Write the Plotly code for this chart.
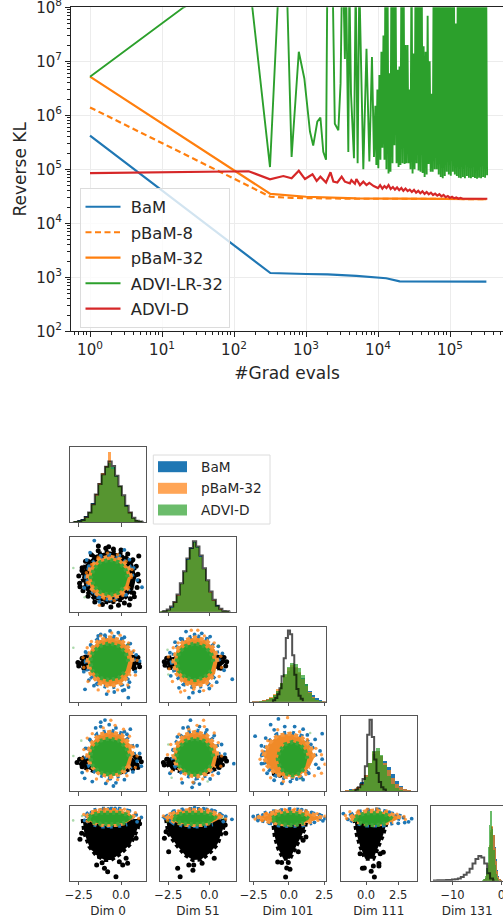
import plotly.graph_objects as go

BLUE, ORANGE, GREEN, RED = "#1f77b4", "#ff7f0e", "#2ca02c", "#d62728"

# ---------- top chart data ----------
BAM_X = [1, 320, 1000, 2000, 5000, 10000, 13000, 20000, 320000]
BAM_Y = [4.2e5, 1200, 1150, 1130, 1060, 1000, 960, 840, 830]
P8_X = [1, 320, 640, 1300, 5000, 20000, 320000]
P8_Y = [1.4e6, 3.1e4, 2.95e4, 2.9e4, 2.85e4, 2.85e4, 2.8e4]
P32_X = [1, 320, 1000, 5000, 320000]
P32_Y = [5.2e6, 3.5e4, 3.1e4, 2.9e4, 2.8e4]
LR_HEAD_X = [1, 20, 160, 316, 420, 540, 631, 794, 948, 1135, 1259, 1435, 1585, 1738, 1897, 1977, 2344, 2512, 2812,
             3020, 3160, 3300, 3467, 3600, 3870, 4000, 4217, 4634, 4900, 5212, 5500, 5900, 6252, 6918, 7586, 8241, 8790]
LR_HEAD_Y = [5.2e6, 1e8, 4e8, 1.1e5, 3e8, 3e8, 1.7e5, 1.5e7, 4.8e6, 5e5, 2.75e5, 7.6e5, 9.1e5, 2.1e5, 1.5e5, 3e8, 3e8,
             7e5, 5.3e5, 3.9e6, 3e8, 3e8, 1.1e7, 3e8, 2.1e5, 3e8, 2.5e6, 1.6e5, 3e8, 1.3e5, 3e8, 2.4e6, 1e5, 1.7e7,
             1.4e5, 1.2e7, 1.7e5]
LR_TAIL_X = [9190, 9490, 9800, 10100, 10450, 10800, 11150, 11500, 11900, 12300, 12700, 13100, 13500, 14000, 14400,
             14900, 15400, 15900, 16400, 16900, 17500, 18100, 18700, 19300, 19900, 20500, 21200, 21900, 22600, 23400,
             24100, 24900, 25700, 26600, 27400, 28300, 29200, 30200, 31200, 32200, 33300, 34300, 35500, 36600, 37800,
             39000, 40300, 41700, 43000, 44400, 45900, 47400, 48900, 50500, 52200, 53900, 55700, 57500, 59400, 61300,
             63300, 65400, 67500, 69700, 72000, 74400, 76800, 79300, 81900, 84600, 87400, 90200, 93200, 96200, 99400,
             102600, 106000, 109500, 113000, 116700, 120500, 124500, 128600, 132800, 137100, 141600, 146300, 151100,
             156000, 161100, 166400, 171900, 177500, 183300, 189300, 195500, 201900, 208500, 215400, 222400, 229700,
             237200, 245000, 253000, 261300, 269900, 278700, 287900, 297300, 307000, 317100, 327000]
LR_TAIL_Y = [1.5e6, 1.2e5, 3e6, 1.05e5, 5.6e6, 1.5e5, 1.5e7, 2.5e5, 3e7, 1.5e5, 1e9, 1e5, 1e9, 8.4e4, 6e6, 9e4, 1e9,
             1.3e5, 1e9, 2.8e5, 5e8, 1.3e5, 7e6, 1.1e5, 8e6, 1.2e5, 1e9, 1.3e5, 1e9, 1.25e5, 2e7, 1.3e5, 2e7, 1.3e5,
             3e6, 1e5, 1e9, 8.4e4, 1.4e7, 1e5, 1e9, 1.3e5, 1e9, 9.5e4, 1e9, 9e4, 1e9, 8.5e4, 1.9e7, 7.2e4, 1.5e7, 8e4,
             7e7, 1.25e5, 1e7, 9e4, 2.5e6, 9e4, 1e9, 1e5, 1e9, 1e5, 1e9, 8e4, 1e9, 7.2e4, 1e9, 6.8e4, 1e9, 7.5e4, 1e9,
             9e4, 1e9, 8e4, 1e9, 7.6e4, 1e9, 9e4, 1e9, 8e4, 5e7, 7.5e4, 1e9, 7e4, 1e9, 6.8e4, 1.1e8, 7.2e4, 1e9, 6.8e4,
             1e9, 7.5e4, 1e9, 7e4, 1e9, 6.8e4, 1e9, 7.2e4, 1e9, 6.9e4, 1e9, 6.7e4, 1e9, 7e4, 1e9, 6.8e4, 1e9, 7.2e4,
             1e9, 7e4, 1e9, 7.8e4]
D_X = [1, 160, 316, 484, 631, 794, 968, 1230, 1406, 1585, 1897, 2188, 2399, 2723, 3126, 3467, 4070, 4270, 4780, 5010,
       5620, 6250, 6920, 7580, 8710, 10000, 10700, 11500, 12300, 13100, 14000, 15000, 16100, 17200, 18400, 19700, 21100,
       22500, 24100, 25800, 27600, 29500, 31600, 33800, 36200, 38700, 41400, 44300, 47400, 50700, 54300, 58100, 62100,
       66500, 71100, 76100, 81400, 87100, 93200, 99700, 106700, 114200, 122200, 130700, 140000, 150000, 200000, 330000]
D_Y = [8.5e4, 9.2e4, 6.5e4, 7.5e4, 6.8e4, 9.4e4, 6.6e4, 8.1e4, 6.1e4, 7.3e4, 5.7e4, 8.8e4, 5.9e4, 5.7e4, 7.3e4, 5.9e4,
       5.5e4, 6.3e4, 5.4e4, 6.6e4, 5.1e4, 5.9e4, 5.1e4, 5.6e4, 4.9e4, 4.5e4, 5.1e4, 4.4e4, 4.9e4, 4.5e4, 5.1e4, 4.3e4,
       4.7e4, 4.2e4, 4.6e4, 4.1e4, 4.5e4, 4.0e4, 4.4e4, 3.95e4, 4.2e4, 3.8e4, 4.15e4, 3.7e4, 4.0e4, 3.6e4, 3.9e4, 3.5e4,
       3.8e4, 3.45e4, 3.7e4, 3.35e4, 3.55e4, 3.25e4, 3.45e4, 3.15e4, 3.35e4, 3.05e4, 3.2e4, 2.95e4, 3.1e4, 2.9e4, 3.0e4,
       2.85e4, 2.95e4, 2.85e4, 2.85e4, 2.85e4]
DECADES_X = [0, 1, 2, 3, 4, 5]
DECADES_Y = [2, 3, 4, 5, 6, 7, 8]

# ---------- histogram data (heights as % of panel height) ----------
DIM_NAMES = ["Dim 0", "Dim 51", "Dim 101", "Dim 111", "Dim 131"]
BINS_0 = [-2.85, -2.65, -2.45, -2.25, -2.05, -1.85, -1.65, -1.45, -1.25, -1.05, -.85, -.65, -.45, -.25, -.05, .15, .35, .55, .75, .95, 1.15, 1.35]
H0_BLUE = [0, .4, 1.6, 4, 8, 14, 25, 37, 50, 63, 75, 79, 73, 61, 48, 35, 23, 13, 6, 3, 1, 0]
H0_ORANGE = [0, .4, 1.2, 3, 7, 14, 24, 37, 52, 65, 75, 94, 71, 60, 48, 35, 22, 13, 6, 2, 1, 0]
H0_GREEN = [0, .2, 1, 2, 6, 13, 23, 35, 49, 63, 73, 79, 74, 62, 48, 35, 22, 12, 6, 2, 1, 0]
H0_BLACK = [0, .4, 1.6, 3, 7, 13, 24, 37, 51, 64, 74, 81, 75, 62, 48, 36, 22, 13, 6, 2, 1, 0]
BINS_1 = [-2.9, -2.7, -2.5, -2.3, -2.1, -1.9, -1.7, -1.5, -1.3, -1.1, -.9, -.7, -.5, -.3, -.1, .1, .3, .5, .7, .9, 1.1, 1.3]
H1_BLUE = [.3, 1, 3, 7, 13, 23, 38, 54, 71, 85, 93, 87, 75, 58, 42, 27, 16, 9, 4, 1, .5, 0]
H1_ORANGE = [.3, 1, 3, 6, 13, 23, 38, 54, 70, 84, 92, 86, 74, 58, 42, 27, 16, 8, 4, 1, .4, 0]
H1_GREEN = [.2, .8, 2, 6, 12, 22, 37, 53, 70, 84, 93, 87, 74, 57, 41, 26, 15, 8, 3, 1, .3, 0]
H1_BLACK = [.3, 1, 3, 7, 13, 23, 38, 54, 71, 85, 94, 87, 75, 58, 42, 27, 16, 8, 4, 1, .5, 0]
BINS_2 = [-2.5, -2.25, -2, -1.75, -1.5, -1.25, -1, -.75, -.5, -.25, 0, .25, .5, .75, 1, 1.25, 1.5, 1.75, 2, 2.25, 2.5]
H2_BLUE = [.3, .5, 1, 2, 3.5, 6, 10, 15, 24, 33, 41, 47, 46, 39, 32, 24, 15, 9, 5, 2, .5]
H2_ORANGE = [.3, .5, 1.2, 2.5, 4, 7, 11, 17, 26, 36, 45, 50, 47, 40, 31, 21, 13, 7, 3, 1, .3]
H2_GREEN = [0, 0, .2, .8, 2, 5, 9, 15, 25, 38, 47, 52, 51, 45, 36, 24, 12, 5, 2, .5, 0]
BLACK_BINS_2 = [-1.2, -1.05, -.9, -.75, -.6, -.45, -.3, -.15, 0, .15, .3, .45, .6, .75, .9, 1.05]
H2_BLACK = [1, 2, 5, 10, 18, 34, 58, 85, 95, 90, 62, 36, 17, 8, 4, 2]
BINS_3 = [-1.5, -1.2, -.9, -.6, -.3, 0, .3, .6, .9, 1.2, 1.5, 1.8, 2.1, 2.4, 2.7, 3, 3.3]
H3_BLUE = [.5, 1.5, 3, 6, 12, 22, 37, 50, 53, 47, 40, 32, 23, 14, 7, 3, .5]
H3_ORANGE = [.3, 1, 2, 5, 10, 21, 38, 52, 54, 47, 38, 28, 18, 10, 5, 2, .3]
H3_GREEN = [0, .2, 1, 3, 8, 19, 37, 53, 57, 48, 35, 20, 10, 4, 1, 0, 0]
BLACK_BINS_3 = [-.9, -.72, -.54, -.36, -.18, 0, .18, .36, .54, .72, .9, 1.08, 1.26, 1.44, 1.62]
H3_BLACK = [1, 2, 5, 9, 16, 33, 75, 95, 72, 42, 24, 12, 5, 2, 1]
BINS_4 = [-4, -3.75, -3.5, -3.25, -3, -2.75, -2.5, -2.25, -2, -1.75, -1.5, -1.25, -1, -.75, -.5, -.25, 0, .25]
H4_BLUE = [0, 0, .5, 1.5, 4, 9, 22, 45, 66, 72, 62, 46, 29, 15, 7, 3, 1, 0]
H4_ORANGE = [0, 0, .5, 1.5, 4, 10, 24, 48, 68, 73, 62, 44, 27, 14, 6, 2, .5, 0]
H4_GREEN = [0, .5, 1.5, 3, 7, 18, 45, 75, 94, 70, 42, 22, 10, 4, 1, 0, 0, 0]
BLACK_BINS_4 = [-14, -13.4, -12.8, -12.2, -11.6, -11, -10.4, -9.8, -9.2, -8.6, -8, -7.4, -6.8, -6.2, -5.6, -5, -4.4, -3.8, -3.2, -2.6, -2, -1.4]
H4_BLACK = [.3, .3, .5, .5, .5, .8, 1, 1.5, 2, 3, 5, 8, 11, 16, 23, 29, 33, 31, 23, 10, 3, .5]

HISTS = [
    (BINS_0, H0_BLUE, H0_ORANGE, H0_GREEN, BINS_0, H0_BLACK),
    (BINS_1, H1_BLUE, H1_ORANGE, H1_GREEN, BINS_1, H1_BLACK),
    (BINS_2, H2_BLUE, H2_ORANGE, H2_GREEN, BLACK_BINS_2, H2_BLACK),
    (BINS_3, H3_BLUE, H3_ORANGE, H3_GREEN, BLACK_BINS_3, H3_BLACK),
    (BINS_4, H4_BLUE, H4_ORANGE, H4_GREEN, BLACK_BINS_4, H4_BLACK),
]

# ---------- pair-plot clouds: outlines of the dense core + stray samples ----------
C10_BLACK_CORE = [(.9, -.88), (.72, -.1), (.13, .5), (-.68, .72), (-1.5, .5), (-2.1, -.1), (-2.3, -.88), (-2.1, -1.66), (-1.5, -2.25), (-.68, -2.45), (.13, -2.25), (.72, -1.66)]
C10_ORANGE_CORE = [(.6, -.88), (.43, -.25), (-.03, .22), (-.68, .4), (-1.33, .22), (-1.8, -.25), (-1.98, -.88), (-1.8, -1.52), (-1.33, -2.0), (-.68, -2.17), (-.03, -2.0), (.43, -1.52)]
C10_GREEN_CORE = [(.4, -.88), (.25, -.35), (-.15, .05), (-.68, .2), (-1.22, .05), (-1.6, -.35), (-1.78, -.88), (-1.6, -1.42), (-1.2, -1.8), (-.68, -1.96), (-.15, -1.82), (.25, -1.4)]
C10_BLACK = [(1.0, -.7), (1.05, -1.1), (.95, -1.5), (.75, -1.85), (.55, -2.2), (.2, -2.45), (-.15, -2.6), (-.6, -2.7), (-1.1, -2.55), (-1.55, -2.4), (-1.95, -2.05), (-2.25, -1.7), (-2.45, -1.25), (-2.5, -.8), (-2.3, -.3), (-2.1, .1), (-1.75, .5), (-1.35, .75), (-.9, .9), (-.45, .85), (0, .8), (.4, .55), (.7, .2), (.9, -.2), (-1.34, 1.04), (-.73, 1.0), (1.05, .43), (.79, -2.07), (.49, -2.58), (-2.43, -1.46), (-2.31, -.47)]
C10_BLUE = [(-1.58, 1.37), (-1.83, .63), (-2.03, .18), (1.24, -1.49), (.97, -1.05), (.2, .8), (-1.28, -2.38), (-2.17, -1.53), (.75, -.3), (.5, .2), (-1.9, -.2), (-2.0, -1.1), (-1.5, -1.9), (-.6, -2.25), (.3, -1.95), (-.1, .45), (-1.2, .45)]
C10_ORANGE = [(-1.28, -2.6), (.6, -.9), (.45, -1.5), (.1, -2.0), (-.4, -2.3), (-1.0, -2.2), (-1.6, -1.75), (-2.0, -1.2), (-2.05, -.6), (-1.75, -.1), (-1.35, .35), (-.8, .6), (-.2, .5), (.3, .1), (.65, -.4)]
C10_GREEN = [(-2.82, -.31), (-2.15, -2.1)]

C20_BLACK_CORE = [(1.0, .05), (.7, .45), (.1, .55), (-1.5, .55), (-2.2, .4), (-2.45, .05), (-2.2, -.35), (-1.6, -.5), (.1, -.5), (.8, -.4)]
C20_ORANGE_CORE = [(.7, .1), (.55, .95), (.03, 1.62), (-.65, 1.85), (-1.33, 1.62), (-1.8, .95), (-2.0, .1), (-1.8, -.75), (-1.33, -1.4), (-.65, -1.65), (.03, -1.42), (.55, -.75)]
C20_GREEN_CORE = [(.43, .1), (.28, .75), (-.13, 1.22), (-.7, 1.42), (-1.27, 1.22), (-1.68, .75), (-1.83, .1), (-1.68, -.55), (-1.27, -1.03), (-.7, -1.2), (-.13, -1.03), (.28, -.55)]
C20_BLACK = [(-2.55, .05), (-2.5, -.2), (-2.3, .35), (-2.1, .45), (1.0, .4), (1.05, 0), (1.1, -.25), (.85, .45), (-2.2, -.35), (.8, -.35)]
C20_BLUE = [(-.16, 2.17), (-.65, 2.3), (-1.2, 2.05), (.2, 1.85), (.55, 1.4), (.9, .6), (1.1, .15), (.85, -.6), (.5, -1.35), (.2, -1.9), (-.4, -2.05), (-.85, -2.2), (-2.13, -1.86), (.43, -2.45), (-1.8, 1.3), (-2.1, .8), (-1.35, 1.95), (-2.2, -.6), (-1.9, -1.2), (.1, -1.95), (-.95, 2.0), (.45, -1.7), (-1.6, -1.6)]
C20_ORANGE = [(-1.75, 1.55), (-1.2, 1.95), (-.55, 2.15), (-.05, 2.0), (.45, 1.45), (.75, .9), (.95, .2), (.85, -.85), (.4, -1.55), (-.2, -1.9), (-.75, -2.0), (-1.35, -1.9), (-1.95, -1.3), (-2.2, -.3), (-2.25, .4), (-2.0, 1.1)]
C20_GREEN = [(-2.82, 1.1), (.4, 1.35)]

C21_BLACK_CORE = [(.95, .05), (.6, .45), (0, .55), (-1.7, .55), (-2.4, .4), (-2.7, .05), (-2.4, -.3), (-1.8, -.5), (0, -.5), (.6, -.35)]
C21_ORANGE_CORE = [(.5, .1), (.35, .95), (-.17, 1.62), (-.85, 1.85), (-1.53, 1.62), (-2.0, .95), (-2.2, .1), (-2.0, -.75), (-1.53, -1.4), (-.85, -1.65), (-.17, -1.42), (.35, -.75)]
C21_GREEN_CORE = [(.25, .1), (.1, .75), (-.33, 1.22), (-.88, 1.42), (-1.45, 1.22), (-1.85, .75), (-2.0, .1), (-1.85, -.55), (-1.45, -1.03), (-.88, -1.2), (-.33, -1.03), (.1, -.55)]
C21_BLACK = [(-2.75, .1), (-2.7, -.15), (-2.6, .35), (-2.45, -.3), (.9, .4), (1.06, .1), (1.0, -.2), (.75, .45), (.7, -.35)]
C21_BLUE = [(1.4, -1.14), (-1.24, -2.45), (-1.42, 2.25), (-.46, 2.13), (-2.09, 1.5), (-.9, 2.05), (.05, 1.9), (.55, 1.2), (.8, .7), (.9, -.5), (.45, -1.35), (0, -1.8), (-.6, -2.0), (-1.85, -1.75), (-2.35, -.9), (-2.4, .75), (-1.75, 1.75), (-1.0, -2.1)]
C21_ORANGE = [(-1.9, 1.45), (-1.1, 2.35), (-.7, 2.35), (-.3, 1.95), (.3, 1.45), (.7, .5), (.75, -.3), (.6, -.95), (.15, -1.6), (-.35, -1.95), (-.95, -1.85), (-1.75, -2.05), (-2.25, -1.3), (-2.45, -.4), (-2.5, .45), (-2.2, 1.1), (-1.5, -1.95)]
C21_GREEN = [(-2.55, .95), (.55, 1.25), (-2.5, -.8)]

C30_BLACK_CORE = [(1.0, .35), (.6, .75), (0, .85), (-1.5, .85), (-2.2, .7), (-2.45, .3), (-2.2, -.1), (-1.6, -.4), (0, -.5), (.7, -.15)]
C30_ORANGE_CORE = [(.7, .85), (.55, 1.7), (.03, 2.45), (-.65, 2.7), (-1.33, 2.45), (-1.8, 1.7), (-2.0, .85), (-1.8, .05), (-1.33, -.55), (-.65, -.85), (.03, -.6), (.55, .05)]
C30_GREEN_CORE = [(.47, .75), (.3, 1.45), (-.1, 1.98), (-.68, 2.17), (-1.26, 1.98), (-1.68, 1.45), (-1.83, .75), (-1.68, .05), (-1.26, -.48), (-.68, -.67), (-.1, -.48), (.3, .05)]
C30_BLACK = [(-2.6, .3), (-2.45, .55), (-2.25, .2), (-2.0, .05), (-2.3, -.05), (1.1, .65), (1.2, .35), (.95, .1), (.85, .75), (.7, -.2), (1.0, -.1)]
C30_BLUE = [(-.95, 3.61), (-.45, -1.55), (-1.5, 3.0), (-1.2, 3.1), (-.7, 3.25), (-.3, 3.0), (.2, 2.7), (.55, 2.9), (.35, 2.5), (.95, 1.6), (1.1, 1.0), (.95, .4), (1.2, .0), (.7, -.45), (.2, -1.05), (-.3, -1.3), (-.9, -1.35), (-1.7, -1.2), (-2.3, -.5), (-2.1, 1.4), (-1.85, 2.1), (-2.15, -.95), (-1.2, 3.45)]
C30_ORANGE = [(-.6, 3.6), (-2.0, 2.2), (-1.7, 2.55), (-1.05, 3.0), (-.35, 3.2), (.15, 2.9), (.5, 2.35), (.75, 1.5), (.95, .8), (.85, -.1), (.35, -.75), (-.2, -1.05), (-.8, -1.15), (-1.45, -1.0), (-2.0, -.35), (-2.3, .6), (-2.2, 1.3)]
C30_GREEN = [(-2.82, .8), (-2.35, 2.0)]

C31_BLACK_CORE = [(.85, .35), (.45, .75), (-.15, .85), (-1.7, .85), (-2.4, .7), (-2.65, .3), (-2.4, -.1), (-1.8, -.4), (-.15, -.5), (.5, -.15)]
C31_ORANGE_CORE = [(.5, .85), (.35, 1.7), (-.17, 2.45), (-.85, 2.7), (-1.53, 2.45), (-2.0, 1.7), (-2.2, .85), (-2.0, .05), (-1.53, -.55), (-.85, -.85), (-.17, -.6), (.35, .05)]
C31_GREEN_CORE = [(.25, .75), (.1, 1.45), (-.32, 1.98), (-.88, 2.17), (-1.45, 1.98), (-1.87, 1.45), (-2.02, .75), (-1.87, .05), (-1.45, -.48), (-.88, -.67), (-.32, -.48), (.1, .05)]
C31_BLACK = [(-2.8, .3), (-2.6, .55), (-2.4, .15), (-2.25, -.05), (.95, .65), (1.05, .4), (.8, .1), (.7, .7), (.6, -.1), (-2.75, .1)]
C31_BLUE = [(-1.15, 3.6), (-.6, 3.1), (-1.6, 3.0), (-.15, 2.85), (.3, 2.4), (.75, 1.7), (.95, .95), (1.5, .2), (.55, -.55), (.05, -1.0), (-.6, -1.4), (-1.05, -1.65), (-1.65, -1.3), (-2.4, -.55), (-2.2, 1.25), (-1.95, 2.3), (-1.3, 3.05), (-.95, -1.3)]
C31_ORANGE = [(-.35, 3.6), (-1.85, 2.5), (-1.25, 2.9), (-.75, 3.2), (-.3, 3.1), (.3, 2.6), (.55, 1.85), (.75, .8), (.7, 0), (.2, -.7), (-.4, -1.0), (-1.0, -1.25), (-1.7, -1.0), (-2.3, -.4), (-2.55, .9), (-2.35, 1.7)]
C31_GREEN = [(-2.5, 1.7), (-.1, -1.2), (-2.3, -.9)]

C32_ORANGE_CORE = [(1.8, .7), (1.5, 1.6), (.9, 2.25), (.1, 2.55), (-.8, 2.4), (-1.45, 1.75), (-1.8, .85), (-1.55, .05), (-.95, -.6), (-.2, -.85), (.75, -.75), (1.45, -.1)]
C32_GREEN_CORE = [(1.3, .58), (1.15, 1.2), (.8, 1.7), (.26, 1.9), (-.3, 1.7), (-.65, 1.2), (-.8, .58), (-.65, -.05), (-.3, -.55), (.26, -.72), (.8, -.55), (1.15, -.05)]
C32_BLACK = [(-1.04, -.59), (-.64, -.71)]
C32_BLUE = [(-2.4, 2.35), (-1.75, 1.1), (-1.95, .2), (-1.55, -.55), (-1.05, -1.1), (-.5, -1.35), (.1, -1.2), (.55, -1.0), (1.0, -1.05), (1.4, -.55), (1.9, .15), (2.35, .55), (2.2, 1.2), (1.85, 2.1), (2.35, 2.55), (1.3, 2.45), (1.0, 2.9), (.4, 3.1), (-.3, 3.1), (-.75, 3.7), (-1.3, 3.25), (-1.05, 2.85), (-1.65, 2.2), (-1.95, 1.6), (1.55, 1.7), (2.1, -.15)]
C32_ORANGE = [(-.1, 3.8), (2.55, .15), (2.3, .9), (2.3, -.55), (1.8, -.75), (1.2, -.65), (-.4, -1.2), (-1.3, -.9), (-1.8, -.3), (-2.05, .55), (-1.9, 1.2), (-1.5, 2.0), (-.8, 2.85), (.75, 2.7), (1.3, 2.1), (1.9, 1.4)]
C32_GREEN = [(1.5, 2.6), (.9, -1.0)]

C40_BLACK_CORE = [(-2.27, -1.6), (-2.17, -4.57), (-1.87, -7.32), (-1.48, -9.05), (-.98, -10.08), (-.59, -10.08), (0, -8.7), (.59, -6.63), (.99, -3.55), (1.08, -1.6)]
C40_ORANGE_CORE = [(.82, -1.3), (.45, -.25), (-.1, .18), (-.67, .3), (-1.25, .18), (-1.8, -.3), (-2.1, -1.3), (-1.75, -2.35), (-1.1, -2.85), (-.3, -2.85), (.35, -2.4)]
C40_GREEN_CORE = [(.63, -1.47), (.35, -.7), (-.15, -.32), (-.67, -.22), (-1.2, -.32), (-1.7, -.7), (-2.0, -1.47), (-1.7, -2.25), (-1.2, -2.6), (-.67, -2.72), (-.15, -2.6), (.35, -2.25)]
C40_BLACK = [(-2.43, -5.81), (-2.33, -4.57), (-1.64, -7.67), (-1.44, -11.11), (-1.12, -10.63), (-.98, -11.79), (-.79, -12.49), (-.3, -13.52), (.1, -11.11), (.39, -10.76), (.89, -5.6), (.3, -9.73), (-1.28, -9.4), (-.1, -10.43), (1.1, -2.6)]
C40_BLUE = [(-2.05, -1.0), (-1.75, -.25), (-1.2, .25), (-.75, .45), (-.1, .4), (.5, .05), (.9, -.75), (1.2, -1.3), (.95, -2.2), (-.75, -3.1), (-2.15, -1.9), (-.35, .55)]
C40_ORANGE = [(-2.2, -.7), (-1.5, .15), (-1.0, .45), (-.4, .3), (.2, .4), (.85, -.3), (1.05, -1.5), (-2.0, -2.1), (-1.55, -.15)]
C40_GREEN = [(-2.83, -1.9), (-2.3, -1.0)]

C41_BLACK_CORE = [(-2.64, -1.6), (-2.5, -4.6), (-2.0, -7.0), (-1.5, -9), (-1.0, -10.1), (-.5, -10), (0, -8.7), (.5, -6.8), (.85, -3.5), (.95, -1.6)]
C41_ORANGE_CORE = [(.8, -1.3), (.3, -.3), (-.3, .12), (-.9, .25), (-1.5, .12), (-2.15, -.35), (-2.55, -1.3), (-2.1, -2.3), (-1.4, -2.85), (-.5, -2.85), (.2, -2.4)]
C41_GREEN_CORE = [(.45, -1.47), (.15, -.7), (-.35, -.32), (-.9, -.22), (-1.45, -.32), (-1.95, -.7), (-2.25, -1.47), (-1.95, -2.25), (-1.45, -2.6), (-.9, -2.72), (-.35, -2.6), (.15, -2.25)]
C41_BLACK = [(-2.74, -5.6), (-2.64, -4.25), (-2.48, -8.36), (-1.93, -11.79), (-1.78, -13.52), (-1.25, -11.11), (-1.0, -12.2), (-.95, -11.1), (-.44, -10.76), (.3, -9.73), (1.0, -4.57), (.97, -2.85)]
C41_BLUE = [(1.38, -1.68), (-2.7, -1.4), (-2.25, -.3), (-1.6, .2), (-1.1, .3), (-.9, .75), (-.35, .5), (.15, .2), (.65, -.5), (1.0, -1.1), (.85, -2.15), (-.9, -3.1), (-2.35, -2.1)]
C41_ORANGE = [(-2.8, -1.0), (-2.4, -.5), (-1.9, .05), (-1.2, .5), (-.6, .4), (.1, -.1), (.6, -.7), (1.0, -1.6), (-2.55, -1.9), (-.1, .3)]
C41_GREEN = [(-2.55, -2.2), (.85, -1.5)]

C42_BLACK_CORE = [(-1.16, -1.6), (-1.0, -5.33), (-.76, -7.75), (-.4, -9.81), (.07, -9.81), (.43, -7.75), (.78, -5.68), (1.13, -3.62), (1.25, -1.6)]
C42_ORANGE_CORE = [(2.35, -1.35), (1.6, -.55), (.9, -.05), (.1, .12), (-.8, -.1), (-1.5, -.5), (-2.25, -1.35), (-1.5, -2.15), (-.7, -2.65), (.1, -2.8), (.9, -2.65), (1.6, -2.15)]
C42_GREEN_CORE = [(1.4, -1.6), (1.05, -.85), (.6, -.5), (.1, -.35), (-.4, -.5), (-.9, -.85), (-1.25, -1.6), (-.9, -2.35), (-.4, -2.75), (.1, -2.9), (.6, -2.75), (1.05, -2.35)]
C42_BLACK = [(-.8, -10.49), (-.52, -10.6), (-.05, -10.6), (-.16, -11.73), (.07, -12.0), (-.24, -13.59), (1.2, -5.33), (1.0, -6.0), (.66, -8.4)]
C42_BLUE = [(-2.53, -1.1), (-2.2, -1.95), (-1.85, -.75), (-1.3, -.35), (-.6, .1), (0, .2), (.9, .3), (1.6, -.25), (2.15, -.7), (2.55, -1.5), (2.4, -2.0), (1.8, -2.3), (-.3, -2.95), (-1.4, -2.5)]
C42_ORANGE = [(-2.4, -1.6), (-1.6, -.4), (-.95, .1), (-.3, .35), (.4, .4), (1.2, .1), (2.0, -.5), (2.55, -1.05), (2.05, -1.9), (-1.9, -2.0)]
C42_GREEN = [(.0, -3.0)]

C43_BLACK_CORE = [(-.9, -1.6), (-.72, -4.8), (-.46, -7.2), (-.07, -9.81), (.57, -9.81), (.96, -7.2), (1.34, -4.8), (1.68, -1.6)]
C43_ORANGE_CORE = [(2.7, -1.35), (1.9, -.55), (1.1, -.05), (.6, .12), (-.05, -.05), (-.75, -.5), (-1.3, -1.35), (-.7, -2.2), (0, -2.65), (.6, -2.8), (1.3, -2.65), (2.1, -2.15)]
C43_GREEN_CORE = [(2.05, -1.6), (1.65, -.85), (1.15, -.45), (.55, -.35), (-.05, -.45), (-.55, -.85), (-.95, -1.6), (-.55, -2.35), (-.05, -2.75), (.55, -2.9), (1.15, -2.75), (1.65, -2.35)]
C43_BLACK = [(-.46, -8.78), (-.13, -11.73), (-.28, -11.8), (.57, -11.3), (1.0, -10.8), (1.0, -11.3), (.4, -12.41), (.65, -13.59), (1.1, -8.78), (1.34, -8.5)]
C43_BLUE = [(-1.76, -.5), (-1.4, -1.7), (-1.2, -.75), (-.6, -.2), (.2, .15), (1.0, .35), (1.8, -.2), (2.3, -.95), (2.9, -1.35), (3.3, -2.2), (3.54, -1.55), (2.5, -2.5), (3.0, -2.35), (.6, -2.95)]
C43_ORANGE = [(-1.6, -.9), (-1.25, -.1), (-.6, .05), (.1, .4), (.85, .45), (1.6, .05), (2.4, -.6), (2.95, -1.1), (3.05, -1.7), (-1.5, -1.5)]
C43_GREEN = [(1.0, -3.0)]

CELLS = [
    (1, 0, C10_BLACK_CORE, C10_ORANGE_CORE, C10_GREEN_CORE, C10_BLACK, C10_BLUE, C10_ORANGE, C10_GREEN),
    (2, 0, C20_BLACK_CORE, C20_ORANGE_CORE, C20_GREEN_CORE, C20_BLACK, C20_BLUE, C20_ORANGE, C20_GREEN),
    (2, 1, C21_BLACK_CORE, C21_ORANGE_CORE, C21_GREEN_CORE, C21_BLACK, C21_BLUE, C21_ORANGE, C21_GREEN),
    (3, 0, C30_BLACK_CORE, C30_ORANGE_CORE, C30_GREEN_CORE, C30_BLACK, C30_BLUE, C30_ORANGE, C30_GREEN),
    (3, 1, C31_BLACK_CORE, C31_ORANGE_CORE, C31_GREEN_CORE, C31_BLACK, C31_BLUE, C31_ORANGE, C31_GREEN),
    (3, 2, [], C32_ORANGE_CORE, C32_GREEN_CORE, C32_BLACK, C32_BLUE, C32_ORANGE, C32_GREEN),
    (4, 0, C40_BLACK_CORE, C40_ORANGE_CORE, C40_GREEN_CORE, C40_BLACK, C40_BLUE, C40_ORANGE, C40_GREEN),
    (4, 1, C41_BLACK_CORE, C41_ORANGE_CORE, C41_GREEN_CORE, C41_BLACK, C41_BLUE, C41_ORANGE, C41_GREEN),
    (4, 2, C42_BLACK_CORE, C42_ORANGE_CORE, C42_GREEN_CORE, C42_BLACK, C42_BLUE, C42_ORANGE, C42_GREEN),
    (4, 3, C43_BLACK_CORE, C43_ORANGE_CORE, C43_GREEN_CORE, C43_BLACK, C43_BLUE, C43_ORANGE, C43_GREEN),
]

# ---------- layout constants (pixels in the 503x924 page) ----------
W, H = 503, 924
COLS = [(70.3, 145.7), (160.3, 235.7), (250.3, 325.7), (341, 416.7), (431.3, 503)]
ROWS = [(447.3, 522.3), (536.7, 611.7), (626.7, 701.7), (716, 791), (805.7, 880.7)]
X_RANGES = [(-3.0, 1.46), (-2.99, 1.61), (-2.74, 2.6), (-1.94, 3.93), (-14.35, .35)]
Y_RANGES = [(-3.0, 1.46), (-2.99, 1.61), (-2.74, 2.6), (-1.94, 3.93), (-14.35, 1.13)]
TICKS = [([-2.5, 0], ["−2.5", "0.0"]), ([-2.5, 0], ["−2.5", "0.0"]), ([-2.5, 0, 2.5], ["−2.5", "0.0", "2.5"]),
         ([0, 2.5], ["0.0", "2.5"]), ([-10, 0], ["−10", "0"])]
SPINE = "#555555"


def fx(p):
    return p / W


def fy(p):
    return 1 - p / H


def legend_name(s):
    return f'<span style="font-size:16.4px">&nbsp;{s}</span>'


fig = go.Figure()
layout = dict(
    width=W, height=H, autosize=False, margin=dict(l=0, r=0, t=0, b=0, autoexpand=False), paper_bgcolor="white", plot_bgcolor="white",
    font=dict(family="DejaVu Sans", color="#262626"), barmode="overlay", bargap=0,
    showlegend=True,
    legend=dict(x=fx(79.5), y=fy(188), xanchor="left", yanchor="top", bgcolor="rgba(255,255,255,0.8)",
                bordercolor="#dcdcdc", borderwidth=1, font=dict(size=17.3, family="DejaVu Sans", color="#262626"),
                itemwidth=35, tracegroupgap=0, itemclick=False, itemdoubleclick=False, entrywidth=117, entrywidthmode="pixels"),
)

# top chart
layout["xaxis"] = dict(type="log", domain=[fx(71), 1], range=[-0.264, 5.736], anchor="y", showline=True, mirror=True,
                       linecolor="#222222", linewidth=1, ticks="outside", ticklen=5, tickwidth=1, tickcolor="#222222",
                       tickvals=[10 ** d for d in DECADES_X], ticktext=[f"10<sup>{d}</sup>" for d in DECADES_X],
                       tickfont=dict(size=15), showgrid=True, gridcolor="#ececec", gridwidth=1.4, zeroline=False,
                       minor=dict(ticks="outside", ticklen=3, tickwidth=.8, tickcolor="#222222", dtick="D1", showgrid=False),
                       title=dict(text="#Grad evals", font=dict(size=17), standoff=8), ticklabeloverflow="allow")
layout["yaxis"] = dict(type="log", domain=[fy(331.3), fy(7.3)], range=[2, 8], anchor="x", showline=True, mirror=False,
                       linecolor="#222222", linewidth=1, ticks="outside", ticklen=5, tickwidth=1, tickcolor="#222222",
                       tickvals=[10 ** d for d in DECADES_Y], ticktext=[f"10<sup>{d}</sup>" for d in DECADES_Y],
                       tickfont=dict(size=15), showgrid=True, gridcolor="#ececec", gridwidth=1.4, zeroline=False,
                       minor=dict(ticks="outside", ticklen=3, tickwidth=.8, tickcolor="#222222", dtick="D1", showgrid=False),
                       title=dict(text="Reverse KL", font=dict(size=17), standoff=5), ticklabeloverflow="allow")

for name, xs, ys, color, width, dash in [
    ("BaM", BAM_X, BAM_Y, BLUE, 2.2, "solid"),
    ("pBaM-8", P8_X, P8_Y, ORANGE, 2.2, "6px,3.5px"),
    ("pBaM-32", P32_X, P32_Y, ORANGE, 2.2, "solid"),
    ("ADVI-LR-32", LR_HEAD_X + LR_TAIL_X, LR_HEAD_Y + LR_TAIL_Y, GREEN, 1.9, "solid"),
    ("ADVI-D", D_X, D_Y, RED, 2.2, "solid"),
]:
    fig.add_trace(go.Scatter(x=xs, y=ys, mode="lines", name=legend_name(name), line=dict(color=color, width=width, dash=dash),
                             xaxis="x", yaxis="y", showlegend=True, hoverinfo="skip"))

# pair-plot axes
axis_id = 2


def add_axes(r, c):
    global axis_id
    i = axis_id
    axis_id += 1
    x0, x1 = COLS[c]
    y0, y1 = ROWS[r]
    bottom = r == 4
    tickvals, ticktext = TICKS[c]
    xa = dict(domain=[fx(x0), fx(x1)], range=list(X_RANGES[c]), anchor=f"y{i}", showline=True, mirror=True, linecolor=SPINE,
              linewidth=1.3, ticks="outside", ticklen=3.5, tickwidth=1, tickcolor=SPINE, tickvals=tickvals,
              showticklabels=bottom, tickfont=dict(size=11.5), showgrid=False, zeroline=False, ticklabeloverflow="allow")
    if bottom:
        xa["ticktext"] = ticktext
        xa["title"] = dict(text=DIM_NAMES[c], font=dict(size=12), standoff=5)
    layout[f"xaxis{i}"] = xa
    return i, dict(domain=[fy(y1), fy(y0)], anchor=f"x{i}", showline=True, mirror=c != 4, linecolor=SPINE, linewidth=1.3,
                   ticks="", showticklabels=False, showgrid=False, zeroline=False)


for d, (bins, hb, ho, hg, black_bins, hk) in enumerate(HISTS):
    i, ya = add_axes(d, d)
    ya["range"] = [0, 100]
    layout[f"yaxis{i}"] = ya
    for heights, color, op, nm in [(hb, BLUE, 1, "BaM"), (ho, ORANGE, .7, "pBaM-32"), (hg, GREEN, .7, "ADVI-D")]:
        fig.add_trace(go.Bar(x=bins, y=heights, marker=dict(color=color, line=dict(width=0)), opacity=op, name=nm,
                             xaxis=f"x{i}", yaxis=f"y{i}", showlegend=False, hoverinfo="skip"))
    fig.add_trace(go.Scatter(x=black_bins, y=hk, mode="lines", line=dict(color="rgba(0,0,0,0.68)", width=2, shape="hvh"),
                             xaxis=f"x{i}", yaxis=f"y{i}", showlegend=False, hoverinfo="skip", name="Reference"))


def xy(pairs):
    return [p[0] for p in pairs], [p[1] for p in pairs]


for r, c, k_core, o_core, g_core, k_dots, b_dots, o_dots, g_dots in CELLS:
    i, ya = add_axes(r, c)
    ya["range"] = list(Y_RANGES[r])
    layout[f"yaxis{i}"] = ya
    axes = dict(xaxis=f"x{i}", yaxis=f"y{i}", showlegend=False, hoverinfo="skip")
    if k_core:
        x, y = xy(k_core)
        fig.add_trace(go.Scatter(x=x, y=y, mode="lines", fill="toself", fillcolor="black",
                                 line=dict(color="black", width=4, dash="4px,3px"), name="Reference", **axes))
    x, y = xy(k_dots)
    fig.add_trace(go.Scatter(x=x, y=y, mode="markers", marker=dict(color="black", size=5), name="Reference", **axes))
    x, y = xy(o_core)
    # speckled rims: the dense edge of each cloud is a scatter of single samples
    fig.add_trace(go.Scatter(x=x, y=y, mode="lines", line=dict(color=BLUE, width=7, dash="3px,5px"), name="BaM", **axes))
    x2, y2 = xy(b_dots)
    fig.add_trace(go.Scatter(x=x2, y=y2, mode="markers", marker=dict(color=BLUE, size=3.8, line=dict(width=0)), name="BaM", **axes))
    fig.add_trace(go.Scatter(x=x, y=y, mode="lines", fill="toself", fillcolor="#f08a28",
                             line=dict(color="#f5963c", width=4, dash="4px,3px"), name="pBaM-32", **axes))
    x2, y2 = xy(o_dots)
    fig.add_trace(go.Scatter(x=x2, y=y2, mode="markers", marker=dict(color=ORANGE, size=3.4, opacity=.75, line=dict(width=0)), name="pBaM-32", **axes))
    x, y = xy(g_core)
    fig.add_trace(go.Scatter(x=x, y=y, mode="lines", fill="toself", fillcolor=GREEN,
                             line=dict(color="#3fa63a", width=4, dash="3px,3px"), name="ADVI-D", **axes))
    x, y = xy(g_dots)
    fig.add_trace(go.Scatter(x=x, y=y, mode="markers", marker=dict(color=GREEN, size=2.6, opacity=.4, line=dict(width=0)), name="ADVI-D", **axes))

# key of the pair plot
shapes = [dict(type="rect", xref="paper", yref="paper", x0=fx(153.3), x1=fx(270), y0=fy(524), y1=fy(455),
               line=dict(color="#dcdcdc", width=1), fillcolor="white", layer="above")]
annotations = []
for label, color, cy in [("BaM", BLUE, 466.7), ("pBaM-32", "rgba(255,127,14,0.7)", 488.3), ("ADVI-D", "rgba(44,160,44,0.7)", 510)]:
    shapes.append(dict(type="rect", xref="paper", yref="paper", x0=fx(158), x1=fx(187), y0=fy(cy + 5.5), y1=fy(cy - 5.5),
                       line=dict(width=0), fillcolor=color, layer="above"))
    annotations.append(dict(text=label, xref="paper", yref="paper", x=fx(199), y=fy(cy), xanchor="left", yanchor="middle",
                            showarrow=False, font=dict(size=13.7, color="#262626")))
layout["shapes"] = shapes
layout["annotations"] = annotations

fig.update_layout(**layout)
fig.write_html("out.html", config=dict(displayModeBar=False),
               post_script="document.body.style.margin='0';document.documentElement.style.overflow='hidden';")
